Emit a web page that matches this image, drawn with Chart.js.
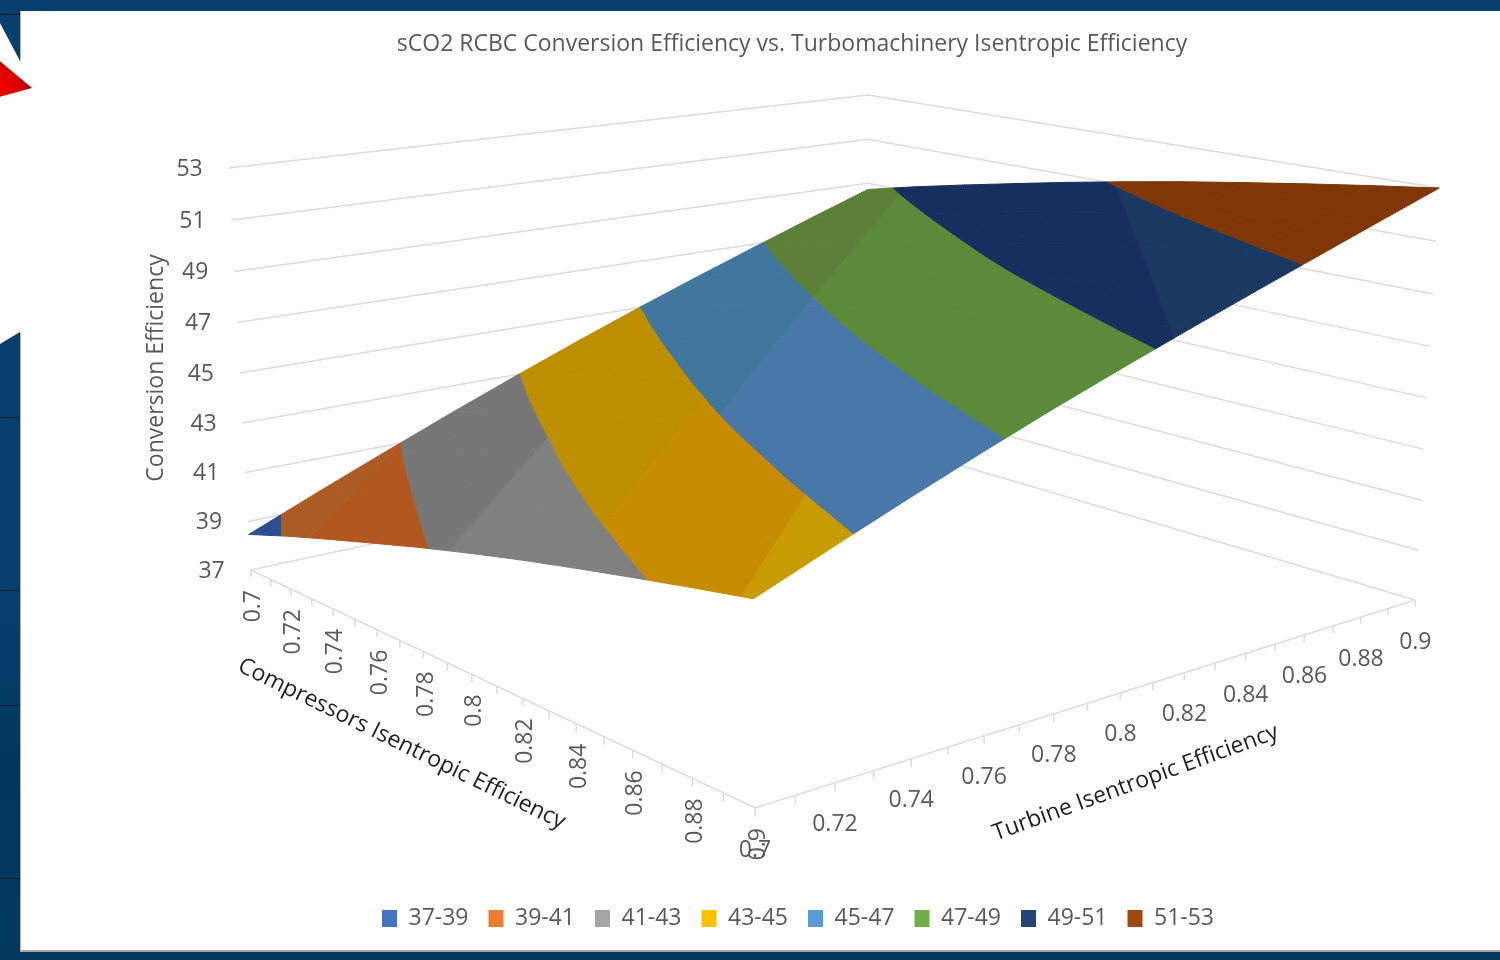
<!DOCTYPE html>
<html>
<head>
<meta charset="utf-8">
<title>sCO2 RCBC Conversion Efficiency</title>
<script src="https://cdn.jsdelivr.net/npm/chart.js@4/dist/chart.umd.min.js"></script>
<style>
  html, body { margin: 0; padding: 0; background: #fff; overflow: hidden; }
  .bar { position: absolute; background: #04406b; }
  .rule { position: absolute; left: 0; width: 20px; height: 1px; background: #0a1a2a; }
  .edge { position: absolute; left: 20px; width: 1px; background: #b0b0b0; }
  #chart { position: absolute; left: 84px; top: 0; }
</style>
</head>
<body>
<!-- slide behind the chart -->
<div class="bar" style="left:0;top:0;width:1500px;height:11px"></div>
<div class="bar" style="left:0;top:951px;width:1500px;height:9px;background:#03395f"></div>
<div style="position:absolute;left:20px;top:950px;width:1480px;height:2px;background:#a8a8a8"></div>
<div class="edge" style="top:11px;height:50px"></div>
<div class="edge" style="top:333px;height:618px"></div>
<div class="bar" style="left:0;top:11px;width:20px;height:50px;clip-path:polygon(0 0,100% 0,100% 100%,0 24%)"></div>
<div class="rule" style="top:14px"></div>
<div style="position:absolute;left:0;top:60px;width:32px;height:38px;background:radial-gradient(circle at 0 70%,#f40000 0,#d80000 45%,#640000 100%);clip-path:polygon(0 3%,100% 74%,0 97%)"></div>
<div style="position:absolute;left:0;top:332px;width:20px;height:619px;background:linear-gradient(#04406b 0,#04406b 45%,#03375f 70%,#033a60 100%);clip-path:polygon(0 12px,100% 0,100% 100%,0 100%)"></div>
<div class="rule" style="top:417px"></div>
<div class="rule" style="top:590px"></div>
<div class="rule" style="top:705px"></div>
<div class="rule" style="top:878px"></div>
<canvas id="chart" width="1416" height="960"></canvas>

<script>
// axis values
const compressorEff = [0.7, 0.72, 0.74, 0.76, 0.78, 0.8, 0.82, 0.84, 0.86, 0.88, 0.9];
const turbineEff = [0.7, 0.72, 0.74, 0.76, 0.78, 0.8, 0.82, 0.84, 0.86, 0.88, 0.9];
const conversionTicks = [37, 39, 41, 43, 45, 47, 49, 51, 53];
const minorTicks = [0.7, 0.71, 0.72, 0.73, 0.74, 0.75, 0.76, 0.77, 0.78, 0.79, 0.8, 0.81, 0.82, 0.83, 0.84, 0.85, 0.86, 0.87, 0.88, 0.89, 0.9];

// conversion efficiency, one row per compressor efficiency
const etaC070 = [38.47, 39.65, 40.79, 41.90, 42.97, 44.01, 45.01, 45.97, 46.90, 47.82, 48.72];
const etaC072 = [39.13, 40.29, 41.41, 42.51, 43.56, 44.58, 45.57, 46.52, 47.44, 48.36, 49.26];
const etaC074 = [39.74, 40.88, 41.99, 43.07, 44.11, 45.12, 46.09, 47.04, 47.95, 48.86, 49.76];
const etaC076 = [40.33, 41.46, 42.55, 43.61, 44.64, 45.64, 46.60, 47.53, 48.44, 49.34, 50.24];
const etaC078 = [40.91, 42.02, 43.10, 44.15, 45.16, 46.14, 47.09, 48.01, 48.91, 49.82, 50.71];
const etaC080 = [41.45, 42.55, 43.61, 44.65, 45.65, 46.62, 47.56, 48.47, 49.37, 50.26, 51.15];
const etaC082 = [41.96, 43.04, 44.10, 45.12, 46.11, 47.06, 47.99, 48.90, 49.79, 50.68, 51.57];
const etaC084 = [42.43, 43.50, 44.54, 45.55, 46.53, 47.48, 48.39, 49.29, 50.18, 51.07, 51.95];
const etaC086 = [42.88, 43.93, 44.97, 45.97, 46.94, 47.87, 48.77, 49.67, 50.55, 51.43, 52.32];
const etaC088 = [43.31, 44.35, 45.37, 46.36, 47.32, 48.24, 49.14, 50.03, 50.90, 51.79, 52.67];
const etaC090 = [43.72, 44.75, 45.76, 46.74, 47.69, 48.60, 49.49, 50.37, 51.24, 52.12, 53.00];
const surface = [etaC070, etaC072, etaC074, etaC076, etaC078, etaC080, etaC082, etaC084, etaC086, etaC088, etaC090];

// legend bands
const bandLabels = ["37-39", "39-41", "41-43", "43-45", "45-47", "47-49", "49-51", "51-53"];
const bandLow = [37, 39, 41, 43, 45, 47, 49, 51];
const bandHigh = [39, 41, 43, 45, 47, 49, 51, 53];
const legendColors = ["#4472c4", "#ed7d31", "#a5a5a5", "#ffc000", "#5b9bd5", "#70ad47", "#264478", "#9e480e"];
// surface tones per band; the shading changes where light passes these cuts
const bandTones = [
  ["#2f4f8c"],
  ["#ab5b24", "#b0581f"],
  ["#777777", "#808080"],
  ["#bd8f00", "#c68b00", "#c89b00"],
  ["#41779f", "#4877a8"],
  ["#5c8038", "#5a8a3a"],
  ["#172f5f", "#1a3860"],
  ["#7f3707"],
];
const toneCuts = [[], [1.5], [4.6], [7.0, 9.8], [7.5], [7.5], [17.0], []];
const toneSlope = [0.67, 0.67, 0.67, 0.67, 0.67, 0.67, 1.22, 0.67];

const textGrey = "#595959";
const gridGrey = "#dcdcdc";
const font = "'Open Sans'";

// the Excel 3D box: floor and roof corners in page pixels
// order: (c0,t0) (c1,t0) (c1,t1) (c0,t1)
const floorQuad = [[250, 570], [755, 808], [1416, 600], [868, 438]];
const roofQuad = [[228, 168], [751, 298], [1440, 188], [868, 95]];

function quadMap(q) {
  const [p0, p1, p2, p3] = q;
  const dx1 = p1[0] - p2[0], dx2 = p3[0] - p2[0], sx = p0[0] - p1[0] + p2[0] - p3[0];
  const dy1 = p1[1] - p2[1], dy2 = p3[1] - p2[1], sy = p0[1] - p1[1] + p2[1] - p3[1];
  const den = dx1 * dy2 - dx2 * dy1;
  const g = (sx * dy2 - dx2 * sy) / den;
  const h = (dx1 * sy - sx * dy1) / den;
  return (u, v) => {
    const w = 1 + g * u + h * v;
    return [
      (p0[0] + (p1[0] - p0[0] + g * p1[0]) * u + (p3[0] - p0[0] + h * p3[0]) * v) / w,
      (p0[1] + (p1[1] - p0[1] + g * p1[1]) * u + (p3[1] - p0[1] + h * p3[1]) * v) / w,
    ];
  };
}
const floorAt = quadMap(floorQuad);
const roofAt = quadMap(roofQuad);

// (compressor, turbine, efficiency) -> point on the flat x/y scales
function project(c, t, z) {
  const u = (c - 0.7) / 0.2, v = (t - 0.7) / 0.2;
  const f = (z - 37) / 16;
  const k = f - 0.04 * f * (1 - f); // height is slightly compressed low down
  const a = floorAt(u, v), b = roofAt(u, v);
  return { x: a[0] + (b[0] - a[0]) * k, y: a[1] + (b[1] - a[1]) * k };
}

// keep the part of a polygon on one side of a level of value(point)
function clipOn(poly, value, level, keepAbove) {
  const out = [];
  poly.forEach((p, i) => {
    const q = poly[(i + 1) % poly.length];
    const vp = value(p), vq = value(q);
    const pIn = keepAbove ? vp >= level : vp <= level;
    const qIn = keepAbove ? vq >= level : vq <= level;
    if (pIn) out.push(p);
    if (pIn !== qIn) {
      const f = (level - vp) / (vq - vp);
      out.push(p.map((a, n) => a + (q[n] - a) * f));
    }
  });
  return out;
}

const heightOf = (p) => p[2];

// one dataset per band tone, cells split by nulls so each one fills by itself
const surfaceSets = [];
bandLabels.forEach((label, b) => {
  const lightOf = (p) => (p[0] - 0.7) / 0.02 + (toneSlope[b] * (p[1] - 0.7)) / 0.02;
  bandTones[b].forEach((color, tone) => {
    const pts = [];
    for (let i = 0; i < compressorEff.length - 1; i++) {
      for (let j = 0; j < turbineEff.length - 1; j++) {
        let poly = [
          [compressorEff[i], turbineEff[j], surface[i][j]],
          [compressorEff[i + 1], turbineEff[j], surface[i + 1][j]],
          [compressorEff[i + 1], turbineEff[j + 1], surface[i + 1][j + 1]],
          [compressorEff[i], turbineEff[j + 1], surface[i][j + 1]],
        ];
        poly = clipOn(poly, heightOf, bandLow[b], true);
        poly = clipOn(poly, heightOf, bandHigh[b], false);
        if (tone > 0) poly = clipOn(poly, lightOf, toneCuts[b][tone - 1], true);
        if (tone < bandTones[b].length - 1) poly = clipOn(poly, lightOf, toneCuts[b][tone], false);
        if (poly.length < 3) continue;
        poly.forEach((p) => pts.push(project(p[0], p[1], p[2])));
        pts.push(project(poly[0][0], poly[0][1], poly[0][2]));
        pts.push({ x: null, y: null });
      }
    }
    surfaceSets.push({
      label: label,
      data: pts,
      showLine: true,
      fill: "shape",
      backgroundColor: color,
      borderColor: color,
      borderWidth: 1,
      pointRadius: 0,
      order: 1,
      clip: false,
    });
  });
});

// walls, floor edges and tick marks
const gridPts = [];
const c0 = compressorEff[0], c1 = compressorEff[10], t0 = turbineEff[0], t1 = turbineEff[10];
conversionTicks.forEach((z) => {
  gridPts.push(project(c0, t0, z), project(c0, t1, z), project(c1, t1, z), { x: null, y: null });
});
gridPts.push(project(c0, t0, 37), project(c1, t0, 37), project(c1, t1, 37), { x: null, y: null });
minorTicks.forEach((v) => {
  gridPts.push(project(v, t0, 37), project(v, t0, 36.72), { x: null, y: null });
  gridPts.push(project(c1, v, 37), project(c1, v, 36.72), { x: null, y: null });
});
const frameSet = {
  label: "frame",
  data: gridPts,
  showLine: true,
  borderColor: gridGrey,
  borderWidth: 1.5,
  pointRadius: 0,
  order: 2,
  clip: false,
};

// tick labels and axis titles for the box
const boxLabels = {
  id: "boxLabels",
  afterLayout(chart) {
    chart.legend.left += 12;
  },
  afterDatasetsDraw(chart) {
    const { ctx, scales } = chart;
    const px = (p) => [scales.x.getPixelForValue(p.x), scales.y.getPixelForValue(p.y)];
    const put = (text, x, y, angle, align, size, color) => {
      ctx.save();
      ctx.translate(x, y);
      ctx.rotate(angle);
      ctx.font = size + "px " + font;
      ctx.fillStyle = color;
      ctx.textAlign = align;
      ctx.textBaseline = "middle";
      ctx.fillText(text, 0, 0);
      ctx.restore();
    };
    conversionTicks.forEach((z) => {
      const [x, y] = px(project(c0, t0, z));
      put(String(z), x - 39, y + 1, 0, "center", 23, textGrey);
    });
    compressorEff.forEach((v) => {
      const [x, y] = px(project(v, t0, 37));
      put(String(v), x + 3, y + 20, -Math.PI / 2, "right", 23, textGrey);
    });
    turbineEff.forEach((v) => {
      const [x, y] = px(project(c1, v, 37));
      put(String(v), x, y + 42, 0, "center", 23, textGrey);
    });
    const o = scales.x.getPixelForValue(156) - 156;
    put("Conversion Efficiency", 156 + o, 368, -Math.PI / 2, "center", 23, textGrey);
    put("Compressors Isentropic Efficiency", 401 + o, 744, 0.455, "center", 23, "#1f1f1f");
    put("Turbine Isentropic Efficiency", 1135 + o, 783, -0.348, "center", 23, "#1f1f1f");
  },
};

const chart = new Chart(document.getElementById("chart"), {
  type: "scatter",
  data: { datasets: [...surfaceSets, frameSet] },
  options: {
    responsive: false,
    animation: false,
    events: [],
    layout: { padding: { bottom: 20 } },
    scales: {
      x: { type: "linear", display: false, min: 84, max: 1500 },
      y: { type: "linear", display: false, reverse: true, min: 0, max: 960 },
    },
    plugins: {
      tooltip: { enabled: false },
      title: {
        display: true,
        text: "sCO2 RCBC Conversion Efficiency vs. Turbomachinery Isentropic Efficiency",
        color: textGrey,
        font: { family: font, size: 23, weight: "normal" },
        padding: { top: 31, bottom: 10 },
      },
      legend: {
        position: "bottom",
        onClick: null,
        labels: {
          boxWidth: 15,
          boxHeight: 17,
          padding: 20,
          color: textGrey,
          font: { family: font, size: 23 },
          generateLabels: () =>
            bandLabels.map((text, i) => ({
              text: text,
              fillStyle: legendColors[i],
              strokeStyle: legendColors[i],
              fontColor: textGrey,
              lineWidth: 0,
              hidden: false,
            })),
        },
      },
    },
  },
  plugins: [boxLabels],
});

// line the value scales up with the page so the box corners land where read
chart.options.scales.y.min = chart.chartArea.top;
chart.options.scales.y.max = chart.chartArea.bottom;
chart.update();
</script>
</body>
</html>
